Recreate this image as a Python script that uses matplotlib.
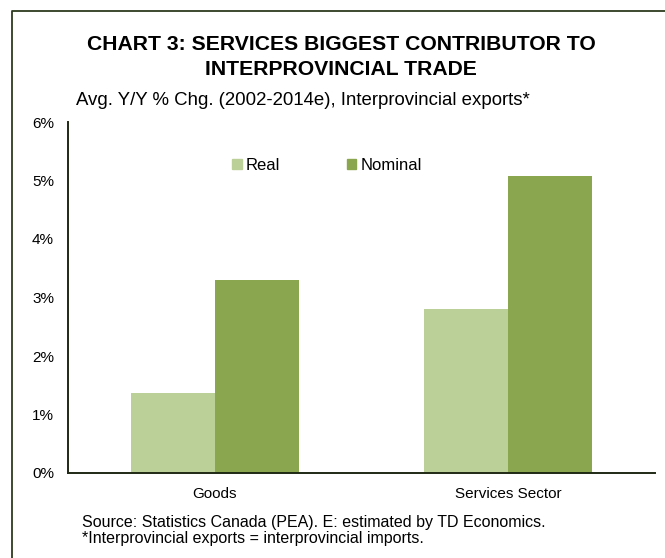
import numpy as np
import matplotlib.pyplot as plt
from matplotlib.lines import Line2D
from matplotlib.patches import Patch

plt.rcParams['font.family'] = ['Liberation Sans', 'DejaVu Sans']

# Data (avg. y/y % change)
categories = ["Goods", "Services Sector"]
real = [1.37, 2.80]
nominal = [3.30, 5.08]
y_ticks = [0, 1, 2, 3, 4, 5, 6]
y_tick_labels = ["0%", "1%", "2%", "3%", "4%", "5%", "6%"]

real_color = "#BBCF98"
nominal_color = "#8AA64F"
axis_color = "#1F2914"

W, H = 665, 558
fig = plt.figure(figsize=(W / 100, H / 100), dpi=100)
ax = fig.add_axes([68 / W, 1 - 473 / H, (655 - 68) / W, (473 - 122) / H])

x = np.arange(len(categories))
bw = 0.286
ax.bar(x - bw / 2, real, width=bw, color=real_color, label="Real")
ax.bar(x + bw / 2, nominal, width=bw, color=nominal_color, label="Nominal")

ax.set_xlim(-0.5, 1.5)
ax.set_ylim(0, 6)
ax.set_yticks(y_ticks)
ax.set_yticklabels(y_tick_labels, fontsize=11)
ax.set_xticks(x)
ax.set_xticklabels(categories, fontsize=11)
ax.tick_params(axis="y", length=0, pad=10)
ax.tick_params(axis="x", length=0, pad=10)

for side in ["top", "right"]:
    ax.spines[side].set_visible(False)
for side in ["left", "bottom"]:
    ax.spines[side].set_color(axis_color)
    ax.spines[side].set_linewidth(1.4)

handles = [Patch(color=real_color, label="Real"),
           Patch(color=nominal_color, label="Nominal")]
fig.legend(handles=handles, loc="center", bbox_to_anchor=(327 / W, 1 - 165 / H),
           ncol=2, frameon=False, fontsize=12, handlelength=0.55,
           handleheight=0.55, handletextpad=0.25, columnspacing=4.0)

# Titles
fig.text(341 / W, 1 - 50 / H, "CHART 3: SERVICES BIGGEST CONTRIBUTOR TO",
         ha="center", va="baseline", fontsize=15.2, fontweight="bold")
fig.text(341 / W, 1 - 75 / H, "INTERPROVINCIAL TRADE",
         ha="center", va="baseline", fontsize=15.2, fontweight="bold")
fig.text(76 / W, 1 - 105 / H,
         "Avg. Y/Y % Chg. (2002-2014e), Interprovincial exports*",
         ha="left", va="baseline", fontsize=13.4)

# Source notes
fig.text(82 / W, 1 - 527 / H,
         "Source: Statistics Canada (PEA). E: estimated by TD Economics.",
         ha="left", va="baseline", fontsize=11.5)
fig.text(82 / W, 1 - 543 / H,
         "*Interprovincial exports = interprovincial imports.",
         ha="left", va="baseline", fontsize=11.5)

# Frame (cropped box: only top and left edges visible)
fig.add_artist(Line2D([11.5 / W, 11.5 / W, 1.0], [0.0, 1 - 11 / H, 1 - 11 / H],
                      transform=fig.transFigure, color="#2E3B1F", linewidth=1.3))

fig.savefig("out.png", dpi=100)
